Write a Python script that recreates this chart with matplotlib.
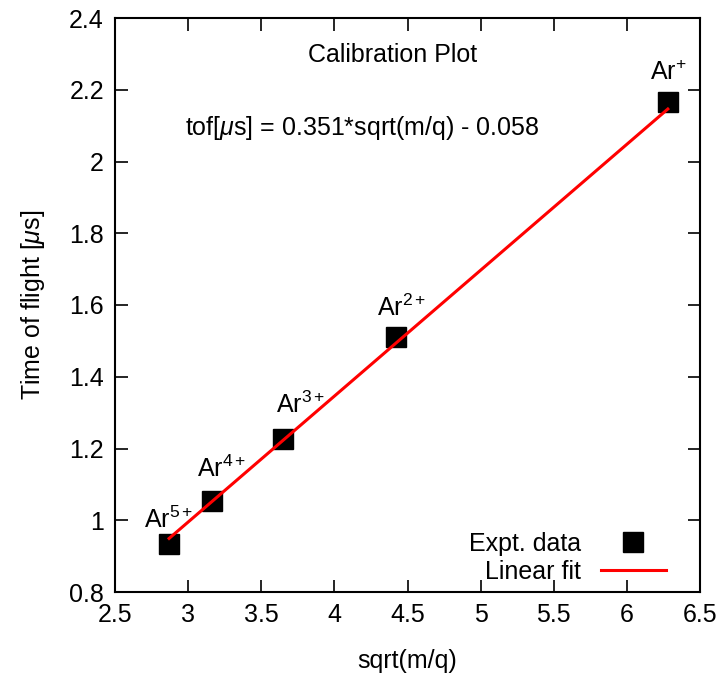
import numpy as np
import matplotlib
matplotlib.use("Agg")
import matplotlib.pyplot as plt

plt.rcParams['font.family'] = ['Liberation Sans', 'DejaVu Sans']
plt.rcParams['mathtext.fontset'] = 'custom'
plt.rcParams['mathtext.rm'] = 'Liberation Sans'
plt.rcParams['mathtext.it'] = 'Liberation Sans:italic'

# measured peaks
sqrt_mq = [2.87, 3.16, 3.65, 4.42, 6.28]
tof = [0.935, 1.053, 1.227, 1.512, 2.165]
ion_labels = [r'Ar$^{5+}$', r'Ar$^{4+}$', r'Ar$^{3+}$', r'Ar$^{2+}$', r'Ar$^{+}$']
label_offsets = [(0, 16), (10, 24), (17, 26), (6, 21), (0, 22)]

# fit parameters
slope = 0.351
intercept = -0.058

x_ticks = [2.5, 3, 3.5, 4, 4.5, 5, 5.5, 6, 6.5]
y_ticks = [0.8, 1, 1.2, 1.4, 1.6, 1.8, 2, 2.2, 2.4]

fs = 18

fig = plt.figure(figsize=(7.17, 6.8), dpi=100)
ax = fig.add_axes([115 / 717, 88 / 680, 585 / 717, 574 / 680])

ax.plot(sqrt_mq, tof, 's', color='black', markersize=14, label='Expt. data')
xf = np.array([sqrt_mq[0], sqrt_mq[-1]])
ax.plot(xf, slope * xf + intercept, '-', color='red', lw=2.2, label='Linear fit')

for xv, yv, lab, off in zip(sqrt_mq, tof, ion_labels, label_offsets):
    ax.annotate(lab, (xv, yv), xytext=off, textcoords='offset pixels',
                ha='center', va='baseline', fontsize=fs)

ax.text(0.475, 0.935, 'Calibration Plot', transform=ax.transAxes,
        ha='center', va='center', fontsize=fs)
ax.text(0.422, 0.808, r'tof[$\mu$s] = 0.351*sqrt(m/q) - 0.058',
        transform=ax.transAxes, ha='center', va='center', fontsize=fs)

ax.set_xlim(2.5, 6.5)
ax.set_ylim(0.8, 2.4)
ax.set_xticks(x_ticks)
ax.set_xticklabels([f'{v:g}' for v in x_ticks])
ax.set_yticks(y_ticks)
ax.set_yticklabels([f'{v:g}' for v in y_ticks])
ax.tick_params(direction='in', length=9, width=1.2, top=True, right=True,
               labelsize=fs, pad=8)
for s in ax.spines.values():
    s.set_linewidth(1.5)

ax.set_xlabel('sqrt(m/q)', fontsize=fs, labelpad=16)
ax.set_ylabel(r'Time of flight [$\mu$s]', fontsize=fs, labelpad=16)

leg = ax.legend(loc='lower right', frameon=False, markerfirst=False,
                fontsize=fs, handlelength=2.6, borderaxespad=0.2,
                labelspacing=0.15, bbox_to_anchor=(0.967, -0.012))

fig.savefig('out.png', dpi=100)
